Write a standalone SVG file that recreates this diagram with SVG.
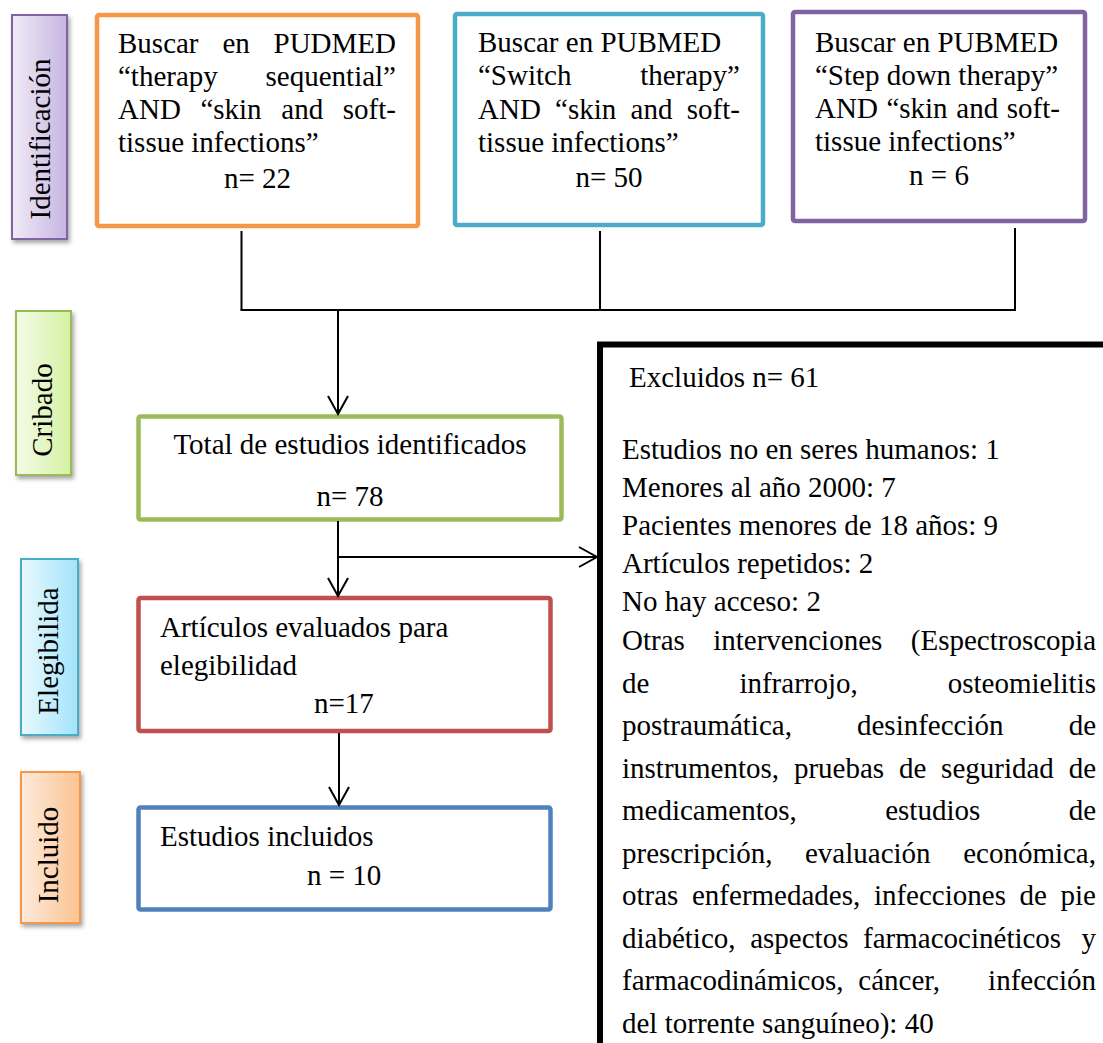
<svg xmlns="http://www.w3.org/2000/svg" width="1103" height="1043" viewBox="0 0 1103 1043">
  <style>
    text { font-family: "Liberation Serif", "Times New Roman", serif; font-size: 29px; fill: #000; }
    .mid { text-anchor: middle; }
    .end { text-anchor: end; }
    .box { fill: #fff; stroke-width: 4.5; }
    .stage { stroke-width: 2; }
    .link { fill: none; stroke: #000; stroke-width: 2; }
  </style>
  <defs>
    <linearGradient id="gPurple" x1="0" y1="0" x2="1" y2="0">
      <stop offset="0" stop-color="#f0ebf7"/>
      <stop offset="1" stop-color="#c7b5e1"/>
    </linearGradient>
    <linearGradient id="gGreen" x1="0" y1="0" x2="1" y2="0">
      <stop offset="0" stop-color="#f4fbe8"/>
      <stop offset="1" stop-color="#d4f2a3"/>
    </linearGradient>
    <linearGradient id="gBlue" x1="0" y1="0" x2="1" y2="0">
      <stop offset="0" stop-color="#e8f9fe"/>
      <stop offset="1" stop-color="#a2e3fa"/>
    </linearGradient>
    <linearGradient id="gOrange" x1="0" y1="0" x2="1" y2="0">
      <stop offset="0" stop-color="#feebdc"/>
      <stop offset="1" stop-color="#fbc392"/>
    </linearGradient>
    <filter id="shadow" x="-30%" y="-10%" width="160%" height="125%">
      <feDropShadow dx="2" dy="3" stdDeviation="2" flood-color="#000" flood-opacity="0.35"/>
    </filter>
    <marker id="arrow" markerUnits="userSpaceOnUse" viewBox="-20 -12 22 24" refX="0" refY="0" markerWidth="22" markerHeight="24" orient="auto">
      <path d="M-18,-10 L0,0 L-18,10" fill="none" stroke="#000" stroke-width="2"/>
    </marker>
  </defs>

  <!-- stage labels on the left -->
  <g id="stage-identificacion">
    <rect class="stage" x="12" y="15" width="55" height="224" fill="url(#gPurple)" stroke="#8064a2" filter="url(#shadow)"/>
    <text class="mid" transform="translate(50,139) rotate(-90)">Identificación</text>
  </g>
  <g id="stage-cribado">
    <rect class="stage" x="16" y="311" width="55" height="164" fill="url(#gGreen)" stroke="#9bbb59" filter="url(#shadow)"/>
    <text class="mid" transform="translate(52,410) rotate(-90)">Cribado</text>
  </g>
  <g id="stage-elegibilidad">
    <rect class="stage" x="21" y="559" width="57" height="176" fill="url(#gBlue)" stroke="#4bacc6" filter="url(#shadow)"/>
    <text class="mid" transform="translate(58,651) rotate(-90)">Elegibilida</text>
  </g>
  <g id="stage-incluido">
    <rect class="stage" x="21" y="772" width="59" height="151" fill="url(#gOrange)" stroke="#f79646" filter="url(#shadow)"/>
    <text class="mid" transform="translate(58,855) rotate(-90)">Incluido</text>
  </g>

  <!-- search boxes -->
  <g id="search-pudmed">
    <rect class="box" x="97" y="15" width="321" height="211" rx="2" stroke="#f79646"/>
    <text x="118" y="53">Buscar</text>
    <text x="222.4" y="53">en</text>
    <text class="end" x="396" y="53">PUDMED</text>
    <text x="118" y="86">“therapy</text>
    <text class="end" x="396" y="86">sequential”</text>
    <text x="118" y="119">AND</text>
    <text x="200.4" y="119">“skin</text>
    <text x="281.3" y="119">and</text>
    <text class="end" x="396" y="119">soft-</text>
    <text x="118" y="152">tissue infections”</text>
    <text class="mid" x="257.5" y="188">n= 22</text>
  </g>
  <g id="search-switch">
    <rect class="box" x="455" y="14" width="308" height="211" rx="2" stroke="#4bacc6"/>
    <text x="478" y="52">Buscar en PUBMED</text>
    <text x="478" y="85">“Switch</text>
    <text class="end" x="740" y="85">therapy”</text>
    <text x="478" y="119">AND</text>
    <text x="555.1" y="119">“skin</text>
    <text x="630.6" y="119">and</text>
    <text class="end" x="740" y="119">soft-</text>
    <text x="478" y="152">tissue infections”</text>
    <text class="mid" x="609" y="187">n= 50</text>
  </g>
  <g id="search-stepdown">
    <rect class="box" x="793" y="12" width="292" height="209" rx="2" stroke="#8064a2"/>
    <text x="815" y="52">Buscar en PUBMED</text>
    <text x="815" y="85">“Step down therapy”</text>
    <text x="815" y="118">AND</text>
    <text x="886.4" y="118">“skin</text>
    <text x="956.3" y="118">and</text>
    <text class="end" x="1060" y="118">soft-</text>
    <text x="815" y="151">tissue infections”</text>
    <text class="mid" x="939" y="185">n = 6</text>
  </g>

  <!-- flow boxes -->
  <g id="total-identificados">
    <rect class="box" x="138.5" y="416.5" width="423" height="103" rx="2" stroke="#9bbb59"/>
    <text class="mid" x="350" y="454">Total de estudios identificados</text>
    <text class="mid" x="350" y="506">n= 78</text>
  </g>
  <g id="evaluados">
    <rect class="box" x="138.5" y="598" width="412" height="133" rx="2" stroke="#c0504d"/>
    <text x="160" y="637">Artículos evaluados para</text>
    <text x="160" y="675">elegibilidad</text>
    <text x="314" y="713">n=17</text>
  </g>
  <g id="incluidos">
    <rect class="box" x="138.5" y="807.5" width="412" height="102" rx="2" stroke="#4f81bd"/>
    <text x="160" y="846">Estudios incluidos</text>
    <text x="307" y="885">n = 10</text>
  </g>

  <!-- exclusion panel, running off the right and bottom edges -->
  <g id="excluidos">
    <rect x="600" y="344.5" width="560" height="760" fill="#fff" stroke="#000" stroke-width="6"/>
    <text x="629" y="387">Excluidos n= 61</text>
    <text x="622" y="459">Estudios no en seres humanos: 1</text>
    <text x="622" y="497">Menores al año 2000: 7</text>
    <text x="622" y="535">Pacientes menores de 18 años: 9</text>
    <text x="622" y="573">Artículos repetidos: 2</text>
    <text x="622" y="611">No hay acceso: 2</text>
    <text x="622" y="650">Otras</text>
    <text x="713.2" y="650">intervenciones</text>
    <text class="end" x="1096" y="650">(Espectroscopia</text>
    <text x="622" y="692.5">de</text>
    <text x="739.4" y="692.5">infrarrojo,</text>
    <text class="end" x="1096" y="692.5">osteomielitis</text>
    <text x="622" y="735">postraumática,</text>
    <text x="857" y="735">desinfección</text>
    <text class="end" x="1096" y="735">de</text>
    <text x="622" y="777.5">instrumentos,</text>
    <text x="793.9" y="777.5">pruebas</text>
    <text x="898.9" y="777.5">de</text>
    <text x="941.1" y="777.5">seguridad</text>
    <text class="end" x="1096" y="777.5">de</text>
    <text x="622" y="820">medicamentos,</text>
    <text x="885.2" y="820">estudios</text>
    <text class="end" x="1096" y="820">de</text>
    <text x="622" y="862.5">prescripción,</text>
    <text x="805" y="862.5">evaluación</text>
    <text class="end" x="1096" y="862.5">económica,</text>
    <text x="622" y="905">otras</text>
    <text x="692" y="905">enfermedades,</text>
    <text x="873.9" y="905">infecciones</text>
    <text x="1019.6" y="905">de</text>
    <text class="end" x="1096" y="905">pie</text>
    <text x="622" y="947.5">diabético,</text>
    <text x="750.2" y="947.5">aspectos</text>
    <text x="863.1" y="947.5">farmacocinéticos</text>
    <text class="end" x="1096" y="947.5">y</text>
    <text x="622" y="990">farmacodinámicos,</text>
    <text x="858.3" y="990">cáncer,</text>
    <text class="end" x="1096" y="990">infección</text>
    <text x="622" y="1032.5">del torrente sanguíneo): 40</text>
  </g>

  <!-- connectors -->
  <g id="connectors">
    <line class="link" x1="241.5" y1="231" x2="241.5" y2="310"/>
    <line class="link" x1="600" y1="231" x2="600" y2="310"/>
    <line class="link" x1="1015" y1="228" x2="1015" y2="310"/>
    <line class="link" x1="240.5" y1="310" x2="1016" y2="310"/>
    <line class="link" x1="338" y1="310" x2="338" y2="414" marker-end="url(#arrow)"/>
    <line class="link" x1="338" y1="521" x2="338" y2="596" marker-end="url(#arrow)"/>
    <line class="link" x1="338" y1="557" x2="597" y2="557" marker-end="url(#arrow)"/>
    <line class="link" x1="339" y1="733" x2="339" y2="805" marker-end="url(#arrow)"/>
  </g>
</svg>
